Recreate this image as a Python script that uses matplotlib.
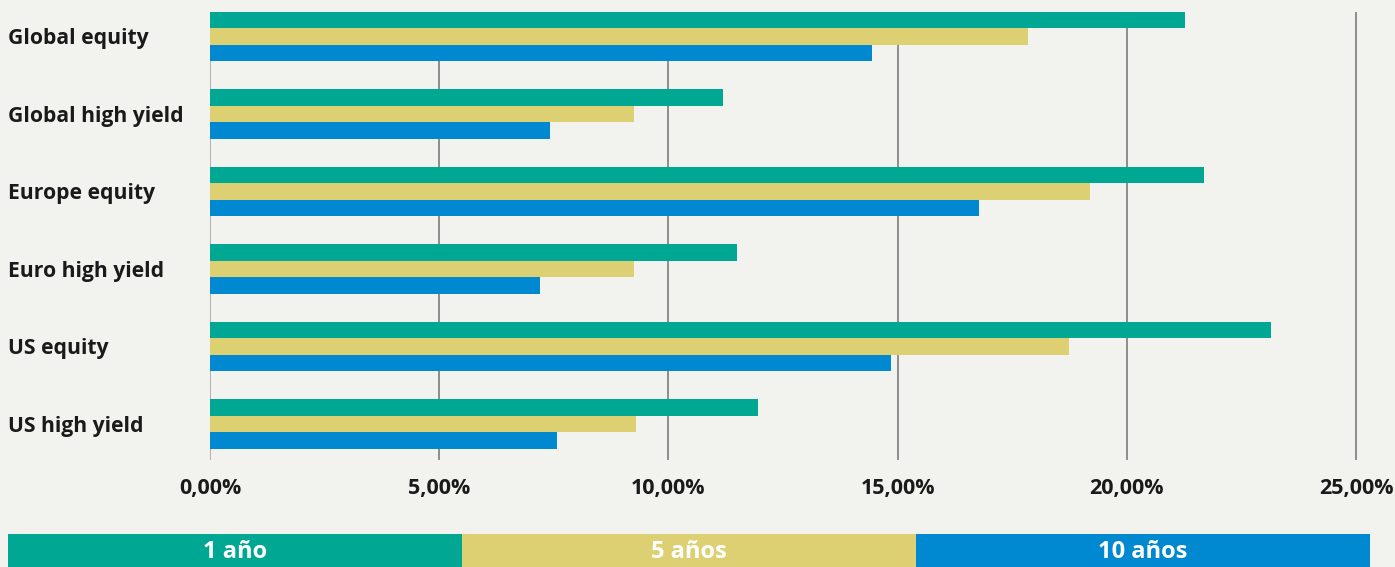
import matplotlib
matplotlib.use("Agg")
import matplotlib.pyplot as plt
import matplotlib.transforms as mtransforms
import numpy as np

plt.rcParams['font.family'] = ['Open Sans', 'DejaVu Sans']

categorias = ['Global equity', 'Global high yield', 'Europe equity',
              'Euro high yield', 'US equity', 'US high yield']
series = ['1 año', '5 años', '10 años']
valores_1 = [21.27, 11.19, 21.68, 11.50, 23.15, 11.95]
valores_5 = [17.84, 9.25, 19.20, 9.25, 18.74, 9.29]
valores_10 = [14.44, 7.42, 16.78, 7.20, 14.86, 7.57]
ticks_x = [0, 5, 10, 15, 20, 25]
etiquetas_x = ['0,00%', '5,00%', '10,00%', '15,00%', '20,00%', '25,00%']

colores = ['#00A792', '#DDD073', '#0089D1']
fondo = '#F2F2EE'

W, H = 1395, 567
fig = plt.figure(figsize=(W / 100, H / 100), dpi=100, facecolor=fondo)

px = 1146 / 25  # pixeles por punto porcentual
xmax = 25.4
ax = fig.add_axes([210 / W, 1 - 460 / H, xmax * px / W, 448 / H], facecolor=fondo)

y = np.arange(len(categorias))
alto = 0.213
for k, vals in enumerate([valores_1, valores_5, valores_10]):
    ax.barh(y + (k - 1) * alto, vals, height=alto, color=colores[k], zorder=3)

ax.set_xlim(0, xmax)
ax.set_ylim(5.465, -0.316)
ax.set_xticks(ticks_x)
ax.set_xticklabels(etiquetas_x, fontsize=15.5, fontweight='bold', color='#1a1a1a')
ax.tick_params(axis='x', length=0, pad=13)
ax.set_yticks([])
for s in ax.spines.values():
    s.set_visible(False)
for t in ticks_x:
    ax.axvline(t, color='#aaaaaa' if t == 0 else '#858585', lw=1.3, zorder=1)

trans = mtransforms.blended_transform_factory(fig.transFigure, ax.transData)
for i, c in enumerate(categorias):
    ax.text(8 / W, i, c, transform=trans, ha='left', va='center_baseline',
            fontsize=15.2, fontweight='bold', color='#1a1a1a')

# leyenda como barra inferior
lg = fig.add_axes([8 / W, 0, 1362 / W, 33 / H])
lg.set_xlim(0, 3)
lg.set_ylim(0, 1)
lg.axis('off')
for k, s in enumerate(series):
    lg.barh(0.5, 1, left=k, height=1, color=colores[k])
    lg.text(k + 0.5, 0.45, s, ha='center', va='center', fontsize=17,
            fontweight='bold', color='white')

fig.savefig('out.png', dpi=100, facecolor=fondo)
